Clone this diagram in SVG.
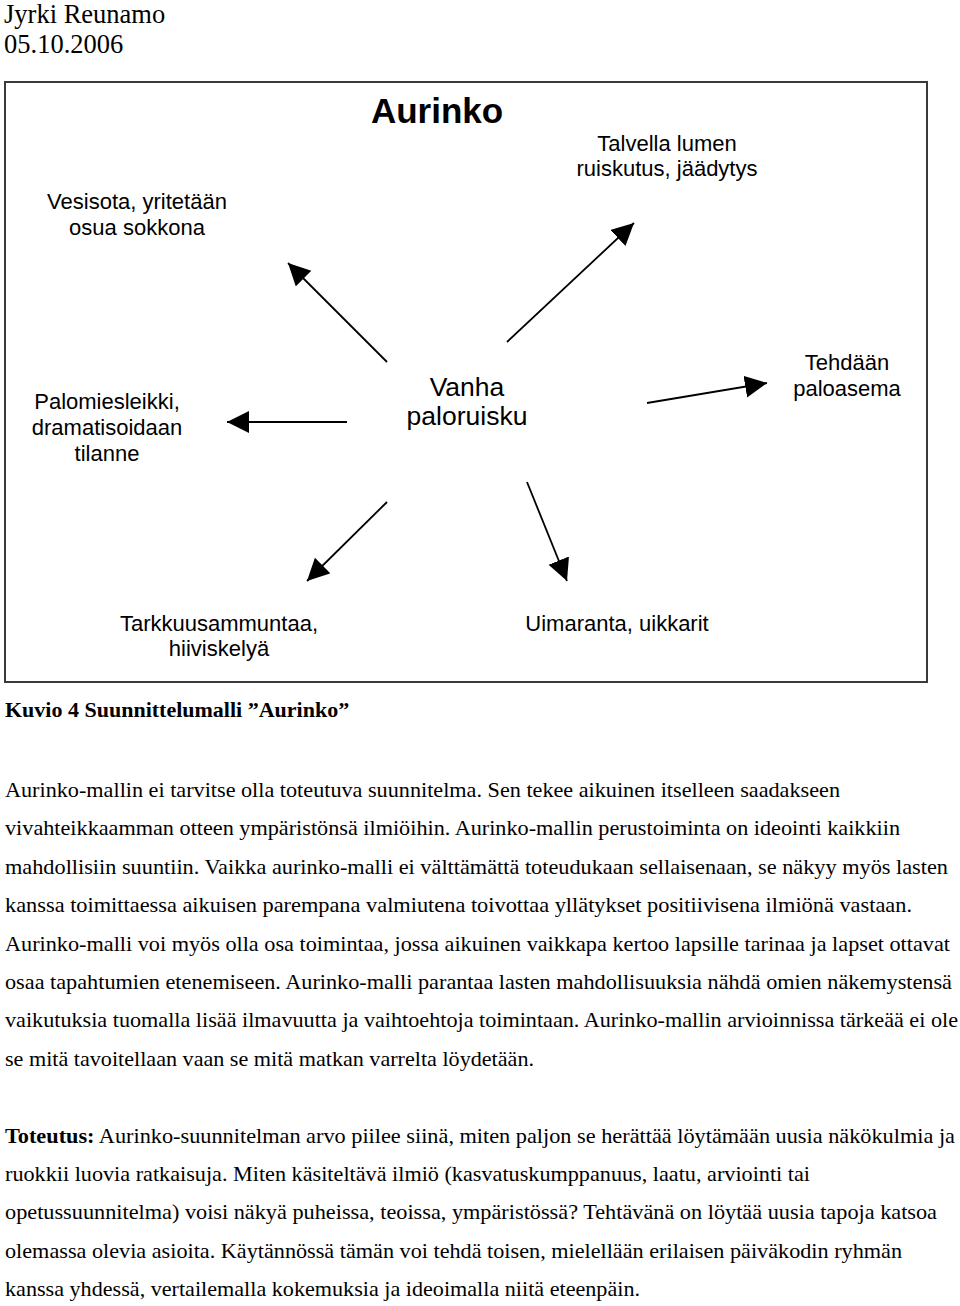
<svg xmlns="http://www.w3.org/2000/svg" width="960" height="1306" viewBox="0 0 960 1306">
<style>
.hdr{font-family:"Liberation Serif","Times New Roman",serif;font-size:26.5px;fill:#000}
.lbl{font-family:"Liberation Sans",Arial,sans-serif;font-size:22px;fill:#000;text-anchor:middle}
.ctr{font-family:"Liberation Sans",Arial,sans-serif;font-size:26.5px;fill:#000;text-anchor:middle}
.ttl{font-family:"Liberation Sans",Arial,sans-serif;font-size:35px;font-weight:bold;fill:#000;text-anchor:middle}
.body{font-family:"Liberation Serif","Times New Roman",serif;font-size:22px;fill:#000}
.b{font-weight:bold}
.conn{stroke:#000;stroke-width:1.8;fill:none;marker-end:url(#ah)}
</style>
<defs>
<marker id="ah" markerUnits="userSpaceOnUse" markerWidth="24" markerHeight="24" refX="22" refY="11" orient="auto">
<path d="M0,0 L22,11 L0,22 z" fill="#000"/>
</marker>
</defs>
<rect width="960" height="1306" fill="#fff"/>
<text class="hdr" x="4" y="23">Jyrki Reunamo</text>
<text class="hdr" x="4" y="53">05.10.2006</text>
<rect x="5" y="82" width="922" height="600" fill="none" stroke="#3a3a3a" stroke-width="2"/>
<g id="title"><text class="ttl" x="437" y="123">Aurinko</text></g>
<g id="center"><text class="ctr" x="467" y="396">Vanha</text><text class="ctr" x="467" y="425">paloruisku</text></g>
<g id="n-vesisota"><text class="lbl" x="137" y="209">Vesisota, yritetään</text><text class="lbl" x="137" y="235">osua sokkona</text></g>
<g id="n-talvella"><text class="lbl" x="667" y="151">Talvella lumen</text><text class="lbl" x="667" y="176">ruiskutus, jäädytys</text></g>
<g id="n-palomies"><text class="lbl" x="107" y="409">Palomiesleikki,</text><text class="lbl" x="107" y="435">dramatisoidaan</text><text class="lbl" x="107" y="461">tilanne</text></g>
<g id="n-tehdaan"><text class="lbl" x="847" y="370">Tehdään</text><text class="lbl" x="847" y="396">paloasema</text></g>
<g id="n-tarkkuus"><text class="lbl" x="219" y="631">Tarkkuusammuntaa,</text><text class="lbl" x="219" y="656">hiiviskelyä</text></g>
<g id="n-uimaranta"><text class="lbl" x="617" y="631">Uimaranta, uikkarit</text></g>
<g id="connectors">
<line class="conn" x1="387" y1="362" x2="288" y2="263"/>
<line class="conn" x1="347" y1="422" x2="227" y2="422"/>
<line class="conn" x1="507" y1="342" x2="634" y2="223"/>
<line class="conn" x1="647" y1="403" x2="767" y2="383"/>
<line class="conn" x1="387" y1="502" x2="307" y2="581"/>
<line class="conn" x1="527" y1="482" x2="567" y2="581"/>
</g>
<text class="body b" x="5" y="717">Kuvio 4 Suunnittelumalli ”Aurinko”</text>
<text class="body" x="5" y="797" textLength="835" lengthAdjust="spacingAndGlyphs">Aurinko-mallin ei tarvitse olla toteutuva suunnitelma. Sen tekee aikuinen itselleen saadakseen</text>
<text class="body" x="5" y="835" textLength="895" lengthAdjust="spacingAndGlyphs">vivahteikkaamman otteen ympäristönsä ilmiöihin. Aurinko-mallin perustoiminta on ideointi kaikkiin</text>
<text class="body" x="5" y="874" textLength="943" lengthAdjust="spacingAndGlyphs">mahdollisiin suuntiin. Vaikka aurinko-malli ei välttämättä toteudukaan sellaisenaan, se näkyy myös lasten</text>
<text class="body" x="5" y="912" textLength="907" lengthAdjust="spacingAndGlyphs">kanssa toimittaessa aikuisen parempana valmiutena toivottaa yllätykset positiivisena ilmiönä vastaan.</text>
<text class="body" x="5" y="951" textLength="945" lengthAdjust="spacingAndGlyphs">Aurinko-malli voi myös olla osa toimintaa, jossa aikuinen vaikkapa kertoo lapsille tarinaa ja lapset ottavat</text>
<text class="body" x="5" y="989" textLength="947" lengthAdjust="spacingAndGlyphs">osaa tapahtumien etenemiseen. Aurinko-malli parantaa lasten mahdollisuuksia nähdä omien näkemystensä</text>
<text class="body" x="5" y="1027" textLength="953" lengthAdjust="spacingAndGlyphs">vaikutuksia tuomalla lisää ilmavuutta ja vaihtoehtoja toimintaan. Aurinko-mallin arvioinnissa tärkeää ei ole</text>
<text class="body" x="5" y="1066" textLength="529" lengthAdjust="spacingAndGlyphs">se mitä tavoitellaan vaan se mitä matkan varrelta löydetään.</text>
<text class="body" x="5" y="1143" textLength="950" lengthAdjust="spacingAndGlyphs"><tspan class="b">Toteutus:</tspan> Aurinko-suunnitelman arvo piilee siinä, miten paljon se herättää löytämään uusia näkökulmia ja</text>
<text class="body" x="5" y="1181" textLength="805" lengthAdjust="spacingAndGlyphs">ruokkii luovia ratkaisuja. Miten käsiteltävä ilmiö (kasvatuskumppanuus, laatu, arviointi tai</text>
<text class="body" x="5" y="1219" textLength="932" lengthAdjust="spacingAndGlyphs">opetussuunnitelma) voisi näkyä puheissa, teoissa, ympäristössä? Tehtävänä on löytää uusia tapoja katsoa</text>
<text class="body" x="5" y="1258" textLength="897" lengthAdjust="spacingAndGlyphs">olemassa olevia asioita. Käytännössä tämän voi tehdä toisen, mielellään erilaisen päiväkodin ryhmän</text>
<text class="body" x="5" y="1296" textLength="635" lengthAdjust="spacingAndGlyphs">kanssa yhdessä, vertailemalla kokemuksia ja ideoimalla niitä eteenpäin.</text>
</svg>
